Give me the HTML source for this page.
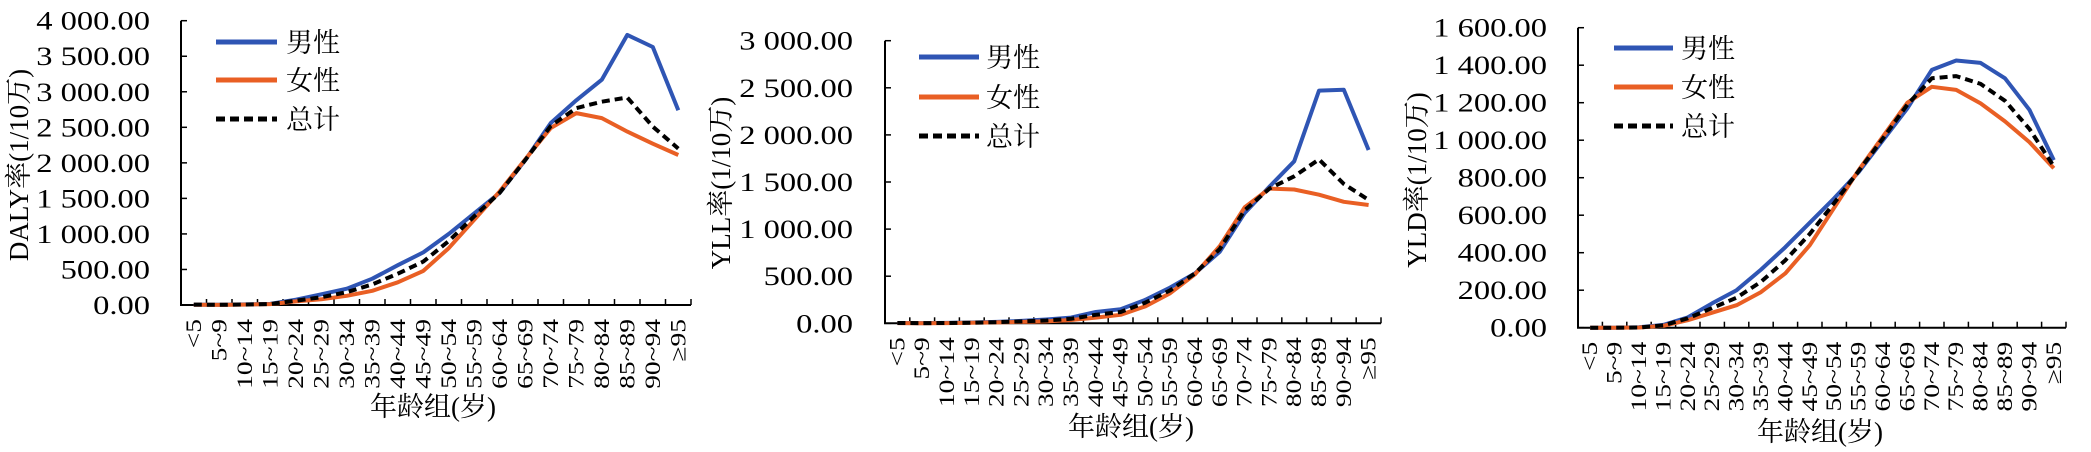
<!DOCTYPE html>
<html><head><meta charset="utf-8">
<style>
html,body{margin:0;padding:0;background:#fff;}
svg{display:block;}
text{font-family:"Liberation Serif","Noto Serif CJK SC",serif;fill:#000;}
</style></head>
<body>
<svg id="svg" width="2091" height="452" viewBox="0 0 2091 452" xmlns="http://www.w3.org/2000/svg"></svg>
<script>
const categories = ["<5","5~9","10~14","15~19","20~24","25~29","30~34","35~39","40~44","45~49","50~54","55~59","60~64","65~69","70~74","75~79","80~84","85~89","90~94","≥95"];
const dalyMale   = [5,3,8,15,75,150,230,370,560,740,1000,1290,1580,2040,2560,2880,3170,3800,3630,2740];
const dalyFemale = [4,2,6,12,50,80,130,200,320,480,800,1200,1600,2050,2490,2700,2630,2440,2270,2110];
const dalyTotal  = [5,3,7,14,60,110,180,290,440,610,900,1250,1580,2040,2520,2770,2860,2920,2510,2200];
const yllMale    = [3,2,4,8,15,25,40,60,120,150,250,380,530,760,1170,1450,1720,2470,2480,1840];
const yllFemale  = [2,1,2,5,10,15,20,35,60,90,180,320,520,820,1230,1430,1420,1365,1290,1256];
const yllTotal   = [3,2,3,6,12,20,30,48,90,120,220,350,530,790,1200,1430,1560,1740,1480,1310];
const yldMale    = [0,0,2,15,55,130,200,310,430,560,690,830,1000,1170,1375,1425,1412,1330,1162,894];
const yldFemale  = [0,0,1,10,40,80,120,190,290,440,640,840,1020,1200,1285,1268,1196,1100,990,850];
const yldTotal   = [0,0,1,12,50,105,160,245,360,500,665,835,1010,1190,1330,1342,1300,1210,1060,860];
const dalyTicks = ["0.00","500.00","1 000.00","1 500.00","2 000.00","2 500.00","3 000.00","3 500.00","4 000.00"];
const yllTicks  = ["0.00","500.00","1 000.00","1 500.00","2 000.00","2 500.00","3 000.00"];
const yldTicks  = ["0.00","200.00","400.00","600.00","800.00","1 000.00","1 200.00","1 400.00","1 600.00"];
const legendLabels = ["男性","女性","总计"];

const NS="http://www.w3.org/2000/svg";
const svg=document.getElementById('svg');
function mk(tag,attrs,parent){const e=document.createElementNS(NS,tag);for(const k in attrs)e.setAttribute(k,attrs[k]);(parent||svg).appendChild(e);return e;}

function chart(cfg){
  const g=mk('g',{});
  
  
  const n=categories.length;
  const cw=(cfg.x1-cfg.x0)/n;
  const xs=i=>cfg.x0+cw*(i+0.5);
  const ys=v=>cfg.yBase-(v/cfg.yMax)*(cfg.yBase-cfg.yTop);
  const ya=mk('line',{x1:cfg.x0,y1:cfg.yTop,x2:cfg.x0,y2:cfg.yBase,stroke:'#000','stroke-width':2},g);
  
  
  const xa=mk('line',{x1:cfg.x0-1,y1:cfg.yBase,x2:cfg.x1,y2:cfg.yBase,stroke:'#000','stroke-width':2},g);
  
  
  cfg.ticks.forEach((t,i)=>{
    const v=cfg.yMax*i/(cfg.ticks.length-1);
    const y=ys(v);
    mk('line',{x1:cfg.x0,y1:y,x2:cfg.x0+6,y2:y,stroke:'#000','stroke-width':1.5},g);
    const tx=mk('text',{x:0,y:0,'text-anchor':'end','font-size':26,transform:`translate(${cfg.labelRight},${y+9}) scale(1.25,1)`},g);
    tx.textContent=t;
    
    
  });
  for(let i=0;i<=n;i++){
    const x=cfg.x0+cw*i;
    mk('line',{x1:x,y1:cfg.yBase,x2:x,y2:cfg.yBase-6,stroke:'#000','stroke-width':1.5},g);
  }
  categories.forEach((c,i)=>{
    const x=xs(i)+7;
    const tx=mk('text',{x:0,y:0,'text-anchor':'end','font-size':22,transform:`translate(${x},${cfg.yBase+14}) rotate(-90) scale(1.25,1)`},g);
    tx.textContent=c;
    
    
  });
  const yt=mk('text',{x:0,y:0,'text-anchor':'middle','font-size':27,transform:`translate(${cfg.yTitleX},${cfg.yTitleY}) rotate(-90)`},g);
  yt.textContent=cfg.yTitle;
  
  
  const xt=mk('text',{x:cfg.xTitleX,y:cfg.xTitleY,'text-anchor':'middle','font-size':27},g);
  xt.textContent="年龄组(岁)";
  
  
  const series=[
    {d:cfg.male,c:'#2f55b4',dash:null,n:'male-line'},
    {d:cfg.female,c:'#e95f24',dash:null,n:'female-line'},
    {d:cfg.total,c:'#000',dash:'8 5',n:'total-line'}];
  series.forEach(s=>{
    const pts=s.d.map((v,i)=>xs(i).toFixed(1)+','+ys(v).toFixed(1)).join(' ');
    const a={points:pts,fill:'none',stroke:s.c,'stroke-width':4,'stroke-linejoin':'round'};
    if(s.dash)a['stroke-dasharray']=s.dash;
    const p=mk('polyline',a,g);
    
    
  });
  const cols=['#2f55b4','#e95f24','#000'];
  legendLabels.forEach((l,i)=>{
    const y=cfg.legY[i];
    const a={x1:cfg.legX0,y1:y,x2:cfg.legX1,y2:y,stroke:cols[i],'stroke-width':5};
    if(i===2)a['stroke-dasharray']='9 5';
    const ln=mk('line',a,g);
    
    
    const t=mk('text',{x:cfg.legText,y:y+10,'font-size':27},g);
    t.textContent=l;
    
    
  });
}

chart({name:'daly-chart',x0:181,x1:691,yTop:20.7,yBase:305,yMax:4000,ticks:dalyTicks,labelRight:150,
  yTitle:'DALY率(1/10万)',yTitleX:28,yTitleY:165,xTitleX:433,xTitleY:416,
  male:dalyMale,female:dalyFemale,total:dalyTotal,legX0:216,legX1:277,legY:[42,80,119],legText:286});
chart({name:'yll-chart',x0:885,x1:1381,yTop:40.7,yBase:323.3,yMax:3000,ticks:yllTicks,labelRight:853,
  yTitle:'YLL率(1/10万)',yTitleX:730,yTitleY:183,xTitleX:1131,xTitleY:436,
  male:yllMale,female:yllFemale,total:yllTotal,legX0:919,legX1:979,legY:[57,97,136],legText:986});
chart({name:'yld-chart',x0:1578,x1:2066,yTop:27.7,yBase:327.7,yMax:1600,ticks:yldTicks,labelRight:1547,
  yTitle:'YLD率(1/10万)',yTitleX:1426,yTitleY:180,xTitleX:1820,xTitleY:441,
  male:yldMale,female:yldFemale,total:yldTotal,legX0:1614,legX1:1673,legY:[48,87,126],legText:1681});
</script>
</body></html>
